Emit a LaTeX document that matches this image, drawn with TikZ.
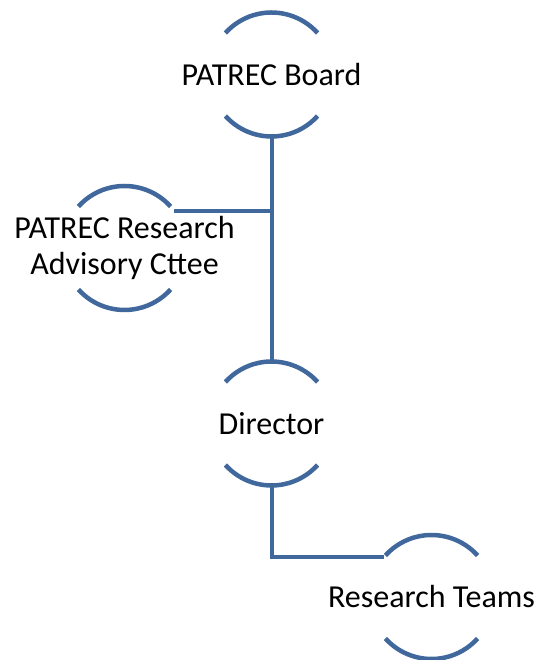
\documentclass[tikz,border=0pt]{standalone}
\usepackage{fontspec}
\setmainfont{Carlito}
\usetikzlibrary{positioning}
\definecolor{ringblue}{RGB}{64,104,156}

\begin{document}
\begin{tikzpicture}[x=1pt,y=1pt]
        \tikzstyle{orbit} = [inner sep=0pt, align=center, font=\fontsize{32}{36}\selectfont]
        \tikzstyle{ring} = [draw=ringblue, line width=4.5pt]
        \tikzstyle{link} = [draw=ringblue, line width=4pt]
        \useasboundingbox (0,0) rectangle (535,660);
        \node[orbit](board) at (271.5,585.5){PATREC Board};
        \node[orbit](cttee) at (124.5,412){PATREC Research\\Advisory Cttee};
        \node[orbit](director) at (271.5,236.5){Director};
        \node[orbit](teams) at (431.5,63){Research Teams};
        % half circles round each name, radius 62
        \foreach \n in {board,cttee,director,teams} {
            \coordinate (\n-ne) at ([shift={(37:62pt)}]\n.center);
            \coordinate (\n-nw) at ([shift={(140:62pt)}]\n.center);
            \coordinate (\n-top) at ([shift={(90:62pt)}]\n.center);
            \coordinate (\n-bot) at ([shift={(-90:62pt)}]\n.center);
            \draw[ring] ([shift={(42:62pt)}]\n.center) arc[start angle=42, end angle=138, radius=62pt];
            \draw[ring] ([shift={(222:62pt)}]\n.center) arc[start angle=222, end angle=318, radius=62pt];
        }
        \coordinate (fork) at (board-bot |- cttee-ne);
        \draw[link] (board-bot) -- (director-top);
        \draw[link] (cttee-ne) -- (fork);
        \draw[link] (director-bot) |- (teams-nw);
    \end{tikzpicture}
\end{document}
